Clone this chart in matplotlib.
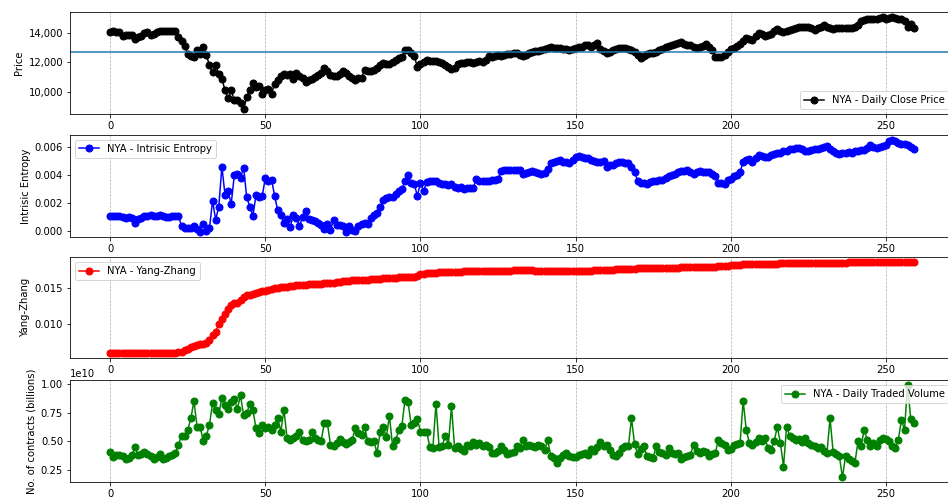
import numpy as np
import matplotlib
matplotlib.use("Agg")
import matplotlib.pyplot as plt
from matplotlib.ticker import StrMethodFormatter

# NYA daily close price
price = [
    14130, 14140, 14120, 14100, 13860, 13900, 13890, 13910, 13600, 13780,
    13820, 14050, 14090, 13900, 13980, 14100, 14150, 14170, 14160, 14150,
    14160, 14140, 13750, 13470, 13130, 12600, 12450, 12380, 12840, 12600,
    13060, 12500, 11810, 11350, 11800, 11230, 10890, 10090, 9520, 10090,
    9400, 9400, 9180, 8770, 9630, 10090, 10600, 10320, 10370, 9860,
    10100, 10200, 9860, 10550, 10780, 11050, 11190, 11150, 11190, 10890,
    11280, 11100, 10900, 10660, 10800, 10890, 11000, 11120, 11300, 11650,
    11400, 11120, 11080, 11050, 11200, 11420, 11300, 11100, 10950, 10780,
    10900, 10960, 11460, 11400, 11420, 11460, 11650, 11810, 11970, 11900,
    11920, 12050, 12190, 12300, 12380, 12840, 12880, 12660, 12430, 11700,
    11920, 12050, 12150, 12100, 12100, 12080, 12030, 11970, 11850, 11700,
    11580, 11650, 11880, 11950, 11980, 12030, 12050, 11980, 12030, 12100,
    12030, 12200, 12430, 12400, 12450, 12500, 12480, 12550, 12560, 12600,
    12620, 12660, 12550, 12430, 12500, 12620, 12720, 12780, 12820, 12880,
    12950, 13000, 13060, 13020, 13000, 13000, 12950, 12900, 12840, 12900,
    13000, 13060, 13100, 13180, 13220, 13060, 13200, 13340, 12950, 12800,
    12660, 12700, 12840, 12950, 13020, 13000, 13020, 12950, 12880, 12720,
    12500, 12330, 12450, 12560, 12620, 12660, 12700, 12840, 12950, 13050,
    13110, 13180, 13250, 13350, 13410, 13250, 13200, 13180, 13100, 13020,
    13050, 13150, 13250, 13100, 12840, 12380, 12400, 12380, 12550, 12720,
    12900, 13020, 13150, 13290, 13500, 13700, 13600, 13560, 13800, 14020,
    13950, 13860, 13900, 13980, 14150, 14320, 14200, 14090, 14180, 14250,
    14300, 14400, 14480, 14450, 14420, 14430, 14380, 14250, 14380, 14450,
    14550, 14480, 14400, 14320, 14350, 14370, 14380, 14390, 14390, 14410,
    14430, 14600, 14890, 14950, 15000, 15020, 15000, 15000, 15050, 15120,
    15000, 15080, 15160, 15100, 15000, 15000, 14850, 14480, 14620, 14390,
]

# intrinsic entropy, in units of 1e-3
entropy_e3 = [
    1.07, 1.08, 1.05, 1.06, 0.98, 0.95, 0.97, 0.92, 0.55, 0.85,
    0.95, 1.05, 1.10, 1.12, 1.08, 1.10, 1.12, 1.05, 1.02, 1.00,
    1.05, 1.10, 1.08, 0.35, 0.22, 0.18, 0.20, 0.35, 0.15, -0.10,
    0.53, 0.02, 0.20, 2.16, 0.80, 1.74, 4.60, 2.60, 2.86, 1.93,
    3.98, 4.07, 3.80, 4.53, 2.40, 1.74, 1.09, 2.58, 2.40, 2.50,
    3.80, 3.56, 3.67, 2.50, 1.47, 1.12, 0.58, 0.88, 0.26, 1.12,
    0.95, 0.35, 1.00, 1.42, 0.88, 0.80, 0.70, 0.55, 0.45, 0.12,
    0.49, 0.07, 0.77, 0.40, 0.42, 0.38, -0.05, 0.35, 0.07, 0.02,
    0.35, 0.53, 0.55, 0.50, 0.95, 1.12, 1.28, 1.70, 2.20, 2.35,
    2.42, 2.46, 2.63, 2.86, 2.98, 3.56, 3.98, 3.44, 3.37, 2.50,
    3.44, 2.86, 3.50, 3.56, 3.58, 3.55, 3.45, 3.33, 3.35, 3.30,
    3.33, 3.14, 3.10, 3.15, 3.00, 3.05, 3.08, 3.05, 3.74, 3.56,
    3.58, 3.55, 3.60, 3.67, 3.65, 3.70, 4.26, 4.37, 4.33, 4.35,
    4.37, 4.37, 4.35, 4.07, 4.15, 4.20, 4.26, 4.20, 4.15, 4.10,
    4.14, 4.45, 4.88, 4.95, 5.00, 5.07, 4.95, 4.90, 4.84, 5.10,
    5.30, 5.37, 5.30, 5.25, 5.19, 5.10, 5.00, 4.91, 4.95, 5.00,
    4.60, 4.72, 4.75, 4.85, 4.95, 4.90, 4.84, 4.84, 4.60, 4.21,
    3.60, 3.45, 3.40, 3.33, 3.50, 3.60, 3.55, 3.62, 3.67, 3.80,
    3.95, 4.02, 4.10, 4.20, 4.26, 4.30, 4.37, 4.25, 4.07, 4.20,
    4.30, 4.25, 4.20, 4.21, 4.10, 3.91, 3.44, 3.40, 3.33, 3.67,
    3.70, 3.91, 4.00, 4.21, 4.95, 5.05, 5.14, 4.91, 5.20, 5.42,
    5.35, 5.30, 5.30, 5.40, 5.53, 5.60, 5.55, 5.70, 5.75, 5.85,
    5.88, 5.90, 5.95, 5.85, 5.75, 5.70, 5.80, 5.85, 5.88, 5.95,
    6.00, 6.05, 5.85, 5.70, 5.60, 5.53, 5.55, 5.60, 5.65, 5.60,
    5.70, 5.72, 5.77, 5.80, 5.95, 6.12, 6.00, 5.93, 6.00, 6.10,
    6.12, 6.40, 6.53, 6.45, 6.30, 6.23, 6.20, 6.16, 6.00, 5.88,
]

# Yang-Zhang volatility, in units of 1e-4
yang_zhang_e4 = [
    60.2, 60.2, 60.3, 60.3, 60.4, 60.4, 60.4, 60.4, 60.4, 60.5,
    60.5, 60.5, 60.5, 60.5, 60.5, 60.6, 60.6, 60.6, 60.6, 60.7,
    60.8, 61.2, 61.7, 62.5, 65.0, 66.5, 68.5, 70.0, 71.6, 72.5,
    73.0, 75.0, 79.0, 85.0, 90.0, 101.0, 108.0, 114.0, 121.0, 126.0,
    129.0, 130.0, 133.0, 137.0, 140.0, 141.0, 142.0, 143.5, 145.0, 145.5,
    146.0, 147.0, 148.0, 149.5, 150.0, 151.0, 151.5, 152.0, 152.5, 153.0,
    154.0, 154.2, 154.5, 154.8, 155.0, 155.2, 155.5, 155.8, 156.0, 156.5,
    157.0, 157.2, 157.5, 158.0, 158.5, 159.0, 159.5, 160.0, 160.5, 160.8,
    161.0, 161.2, 161.5, 161.5, 161.8, 162.0, 162.5, 163.0, 163.5, 163.8,
    164.0, 164.2, 164.4, 164.5, 164.6, 164.7, 164.8, 164.9, 165.0, 166.0,
    169.0, 169.5, 170.0, 170.5, 171.0, 171.3, 171.5, 171.7, 171.9, 172.0,
    172.0, 172.2, 172.4, 172.6, 172.8, 172.9, 173.0, 173.0, 173.1, 173.2,
    173.3, 173.4, 173.5, 173.6, 173.7, 173.8, 173.8, 173.9, 174.0, 174.0,
    174.1, 174.1, 174.2, 174.2, 174.3, 174.3, 174.2, 174.0, 173.8, 173.6,
    173.5, 173.4, 173.4, 173.3, 173.3, 173.3, 173.3, 173.2, 173.2, 173.2,
    173.3, 173.4, 173.5, 173.6, 173.8, 174.0, 174.2, 174.4, 174.6, 174.8,
    175.0, 175.2, 175.4, 175.6, 175.8, 176.0, 176.2, 176.4, 176.6, 176.8,
    177.0, 177.2, 177.3, 177.4, 177.5, 177.6, 177.7, 177.8, 177.8, 177.9,
    178.0, 178.0, 178.1, 178.1, 178.2, 178.3, 178.2, 178.2, 178.3, 178.4,
    178.5, 178.6, 178.8, 179.0, 179.2, 179.4, 179.6, 179.8, 180.2, 180.6,
    181.0, 181.3, 181.6, 182.0, 182.4, 182.8, 183.0, 183.1, 183.2, 183.3,
    183.4, 183.4, 183.5, 183.5, 183.6, 183.6, 183.7, 183.7, 183.8, 183.8,
    183.9, 183.9, 184.0, 184.1, 184.2, 184.3, 184.4, 184.5, 184.6, 184.6,
    184.7, 184.7, 184.8, 184.8, 184.9, 184.9, 185.0, 185.0, 185.1, 185.1,
    185.2, 185.3, 185.4, 185.5, 185.6, 185.6, 185.7, 185.7, 185.8, 185.8,
    185.9, 185.9, 186.0, 186.0, 186.1, 186.1, 186.2, 186.2, 186.3, 186.3,
]

# daily traded volume, in units of 1e8 contracts
volume_e8 = [
    40.5, 36.5, 37.6, 37.9, 37.0, 34.8, 35.6, 37.6, 44.8, 37.6,
    39.0, 40.5, 38.5, 37.0, 34.2, 36.5, 38.5, 34.2, 35.6, 37.0,
    37.6, 39.4, 47.1, 54.9, 54.3, 60.0, 70.1, 85.3, 62.9, 62.9,
    50.0, 54.9, 64.4, 83.6, 77.3, 73.9, 88.2, 81.6, 78.7, 84.5,
    87.4, 78.7, 90.2, 73.0, 74.4, 83.0, 77.3, 61.5, 57.2, 64.4,
    61.5, 62.9, 60.0, 64.4, 70.1, 58.6, 77.9, 52.9, 51.4, 52.5,
    54.3, 57.8, 51.4, 50.0, 50.9, 57.8, 52.9, 51.4, 50.5, 65.8,
    65.8, 47.1, 46.3, 48.6, 52.0, 49.0, 48.0, 49.1, 51.4, 61.5,
    57.2, 55.7, 62.9, 50.0, 49.5, 50.0, 39.9, 57.8, 62.4, 53.7,
    72.1, 46.3, 50.9, 60.0, 63.5, 85.9, 84.5, 64.4, 65.8, 69.3,
    58.6, 57.8, 58.6, 45.1, 44.3, 83.0, 45.1, 45.7, 54.9, 47.1,
    80.7, 44.3, 45.7, 43.4, 41.4, 47.1, 46.3, 49.1, 47.1, 48.6,
    46.3, 47.1, 45.0, 39.9, 39.9, 41.4, 45.7, 42.8, 38.5, 39.4,
    40.5, 45.7, 44.3, 50.9, 46.3, 47.1, 45.7, 45.1, 47.1, 46.0,
    42.2, 50.9, 37.0, 35.6, 30.7, 35.6, 37.6, 39.4, 37.0, 36.5,
    36.5, 37.6, 38.5, 39.4, 38.0, 43.4, 41.4, 45.1, 49.1, 45.7,
    47.1, 42.8, 37.6, 37.0, 39.9, 44.3, 46.3, 45.5, 70.1, 48.0,
    38.5, 43.4, 45.7, 37.0, 36.5, 35.6, 46.3, 40.5, 39.4, 37.6,
    44.3, 39.4, 38.5, 39.4, 34.2, 36.5, 37.0, 38.0, 47.1, 41.4,
    39.4, 41.4, 40.5, 37.0, 38.5, 39.4, 51.4, 48.6, 47.1, 42.8,
    43.4, 47.1, 48.0, 48.6, 85.3, 60.0, 48.6, 47.1, 49.1, 52.9,
    50.0, 52.9, 44.3, 42.8, 50.0, 62.9, 48.6, 27.9, 62.9, 54.9,
    52.9, 50.9, 52.0, 49.1, 52.9, 48.6, 46.5, 45.7, 44.3, 45.1,
    41.4, 39.9, 70.1, 40.5, 38.5, 37.0, 18.4, 37.0, 34.8, 32.8,
    30.7, 50.0, 45.7, 60.0, 51.4, 45.7, 48.6, 45.7, 51.4, 52.9,
    52.0, 50.0, 45.7, 44.3, 51.4, 68.7, 60.0, 99.7, 69.3, 65.8,
]

price = np.array(price)
entropy = np.array(entropy_e3) * 1e-3
yang_zhang = np.array(yang_zhang_e4) * 1e-4
volume = np.array(volume_e8) * 1e8

W, H = 948, 499
fig = plt.figure(figsize=(W / 72, H / 72), dpi=72)

# panel boxes in pixels: (top, bottom); axes run past the right edge like the cropped original
left_px, right_px = 70, 954
boxes = [(12, 114), (135, 237), (257, 358), (380, 482)]
axes = []
for top, bot in boxes:
    ax = fig.add_axes([left_px / W, 1 - bot / H, (right_px - left_px) / W, (bot - top) / H])
    ax.grid(axis='x', linestyle='--', color='#b0b0b0', linewidth=0.7)
    axes.append(ax)

ax1, ax2, ax3, ax4 = axes
ms = 7

ax1.plot(np.arange(len(price)), price, 'o-', color='black', ms=ms, label='NYA - Daily Close Price')
ax1.axhline(price.mean())
ax1.set_ylabel('Price')
ax1.yaxis.set_major_formatter(StrMethodFormatter('{x:,.0f}'))
ax1.legend(loc='lower right')

ax2.plot(np.arange(len(entropy)), entropy, 'o-', color='blue', ms=ms, label='NYA - Intrisic Entropy')
ax2.set_ylabel('Intrisic Entropy')
ax2.legend(loc='upper left')

ax3.plot(np.arange(len(yang_zhang)), yang_zhang, 'o-', color='red', ms=ms, label='NYA - Yang-Zhang')
ax3.set_ylabel('Yang-Zhang')
ax3.legend(loc='upper left')

ax4.plot(np.arange(len(volume)), volume, 'o-', color='green', ms=ms, label='NYA - Daily Traded Volume')
ax4.set_ylabel('No. of contracts (billions)')
ax4.set_yticks([0.25e10, 0.5e10, 0.75e10, 1.0e10])
ax4.legend(loc='upper right')

for ax in axes:
    ax.set_xticks([0, 50, 100, 150, 200, 250])

fig.savefig('out.png', dpi=72)
